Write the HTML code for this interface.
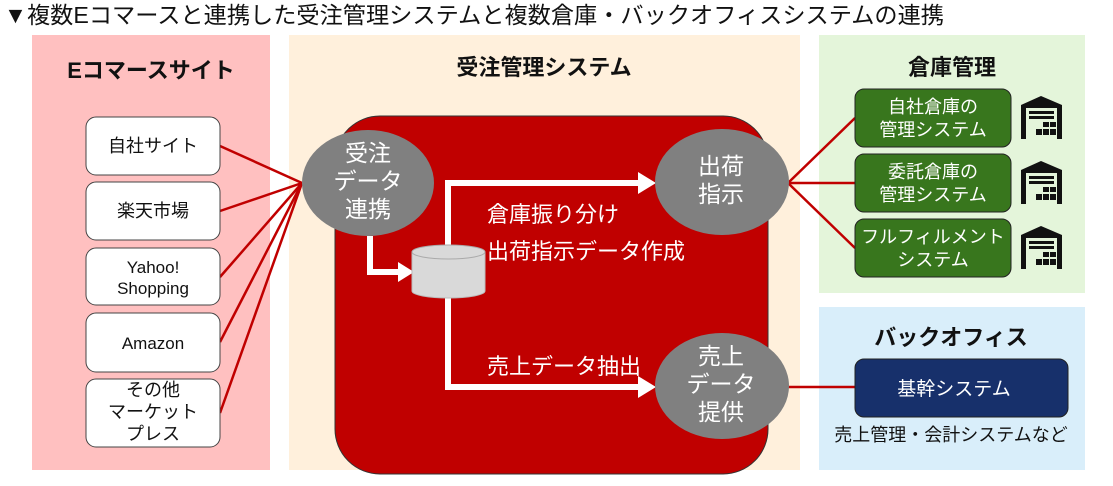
<!DOCTYPE html>
<html><head><meta charset="utf-8"><style>
html,body{margin:0;padding:0;background:#fff;}
body{width:1113px;height:486px;overflow:hidden;position:relative;font-family:"Liberation Sans","Noto Sans CJK JP",sans-serif;}
</style></head><body>
<svg width="1113" height="486" xmlns="http://www.w3.org/2000/svg" style="position:absolute;left:0;top:0" font-family="Liberation Sans, Noto Sans CJK JP, sans-serif">
<defs>
<g id="wh">
<path d="M0 9 L20 0 L41 9 L41 43 L36 43 L36 12 L5 12 L5 43 L0 43 Z" fill="#111"/>
<rect x="8" y="15" width="25" height="3" fill="#111"/>
<rect x="8" y="20" width="25" height="3" fill="#111"/>
<rect x="22" y="26" width="6" height="5" fill="#111"/><rect x="29" y="26" width="6" height="5" fill="#111"/>
<rect x="15" y="33" width="6" height="6" fill="#111"/><rect x="22" y="33" width="6" height="6" fill="#111"/><rect x="29" y="33" width="6" height="6" fill="#111"/>
</g>
</defs>
<text x="4" y="23" font-size="23" fill="#111" textLength="940" lengthAdjust="spacingAndGlyphs">▼複数Eコマースと連携した受注管理システムと複数倉庫・バックオフィスシステムの連携</text>
<rect x="32" y="35" width="238" height="435" fill="#ffc0c0"/>
<rect x="289" y="35" width="511" height="435" fill="#fff0dc"/>
<rect x="819" y="35" width="266" height="258" fill="#e4f5da"/>
<rect x="819" y="307" width="266" height="163" fill="#d9eefa"/>
<text x="151" y="78" font-size="22" font-weight="bold" text-anchor="middle" fill="#111">Eコマースサイト</text>
<text x="544" y="75" font-size="22" font-weight="bold" text-anchor="middle" fill="#111">受注管理システム</text>
<text x="952" y="75" font-size="22" font-weight="bold" text-anchor="middle" fill="#111">倉庫管理</text>
<text x="951" y="345" font-size="22" font-weight="bold" text-anchor="middle" fill="#111">バックオフィス</text>
<rect x="335" y="116" width="433" height="358" rx="45" fill="#c00000" stroke="#333" stroke-width="1"/>
<g stroke="#c00000" stroke-width="2.5">
<line x1="220" y1="146" x2="302" y2="183"/><line x1="220" y1="211" x2="302" y2="183"/>
<line x1="220" y1="277" x2="302" y2="183"/><line x1="220" y1="342" x2="302" y2="183"/>
<line x1="220" y1="413" x2="302" y2="183"/>
<line x1="788" y1="183" x2="855" y2="118"/><line x1="788" y1="183" x2="855" y2="183"/>
<line x1="788" y1="183" x2="855" y2="248"/><line x1="788" y1="387" x2="855" y2="387"/>
</g>
<g fill="#fff" stroke="#444" stroke-width="1">
<rect x="86" y="117" width="134" height="58" rx="10"/>
<rect x="86" y="182" width="134" height="58" rx="10"/>
<rect x="86" y="248" width="134" height="57" rx="10"/>
<rect x="86" y="313" width="134" height="59" rx="10"/>
<rect x="86" y="379" width="134" height="68" rx="10"/>
</g>
<g font-size="18" fill="#111" text-anchor="middle">
<text x="153" y="152">自社サイト</text>
<text x="153" y="217">楽天市場</text>
<text x="153" y="273" font-size="17">Yahoo!</text><text x="153" y="294" font-size="17">Shopping</text>
<text x="153" y="349" font-size="17">Amazon</text>
<text x="153" y="396">その他</text><text x="153" y="418">マーケット</text><text x="153" y="440">プレス</text>
</g>
<g stroke="#fff" stroke-width="6" fill="none">
<polyline points="370,236 370,272 400,272"/>
<polyline points="448,252 448,183 640,183"/>
<polyline points="448,296 448,387 640,387"/>
</g>
<g fill="#fff">
<polygon points="398,262 414,272 398,282"/>
<polygon points="638,172 656,183 638,194"/>
<polygon points="638,376 656,387 638,398"/>
</g>
<path d="M412 252 L412 291 A36.5 7 0 0 0 485 291 L485 252 Z" fill="#d9d9d9" stroke="#bbb"/>
<ellipse cx="448.5" cy="252" rx="36.5" ry="7" fill="#d9d9d9" stroke="#aaa"/>
<g fill="#808080">
<ellipse cx="368" cy="183" rx="66" ry="53"/>
<ellipse cx="722" cy="182" rx="67" ry="53"/>
<ellipse cx="722" cy="386" rx="67" ry="53"/>
</g>
<g font-size="23" fill="#fff" text-anchor="middle">
<text x="368" y="161">受注</text><text x="368" y="189">データ</text><text x="368" y="217">連携</text>
<text x="721" y="174">出荷</text><text x="721" y="202">指示</text>
<text x="721" y="364">売上</text><text x="721" y="392">データ</text><text x="721" y="420">提供</text>
</g>
<g font-size="22" fill="#fff">
<text x="487" y="222">倉庫振り分け</text>
<text x="487" y="259">出荷指示データ作成</text>
<text x="487" y="374">売上データ抽出</text>
</g>
<g fill="#38761d" stroke="#222" stroke-width="1">
<rect x="855" y="89" width="156" height="58" rx="9"/>
<rect x="855" y="154" width="156" height="58" rx="9"/>
<rect x="855" y="219" width="156" height="58" rx="9"/>
</g>
<g font-size="18" fill="#fff" text-anchor="middle">
<text x="933" y="113">自社倉庫の</text><text x="933" y="136">管理システム</text>
<text x="933" y="178">委託倉庫の</text><text x="933" y="201">管理システム</text>
<text x="933" y="243">フルフィルメント</text><text x="933" y="266">システム</text>
</g>
<use href="#wh" x="1021" y="96"/>
<use href="#wh" x="1021" y="161"/>
<use href="#wh" x="1021" y="226"/>
<rect x="855" y="359" width="213" height="58" rx="9" fill="#17306b" stroke="#222"/>
<text x="954" y="395" font-size="19" fill="#fff" text-anchor="middle">基幹システム</text>
<text x="951" y="441" font-size="18" fill="#111" text-anchor="middle">売上管理・会計システムなど</text>
</svg>
</body></html>
